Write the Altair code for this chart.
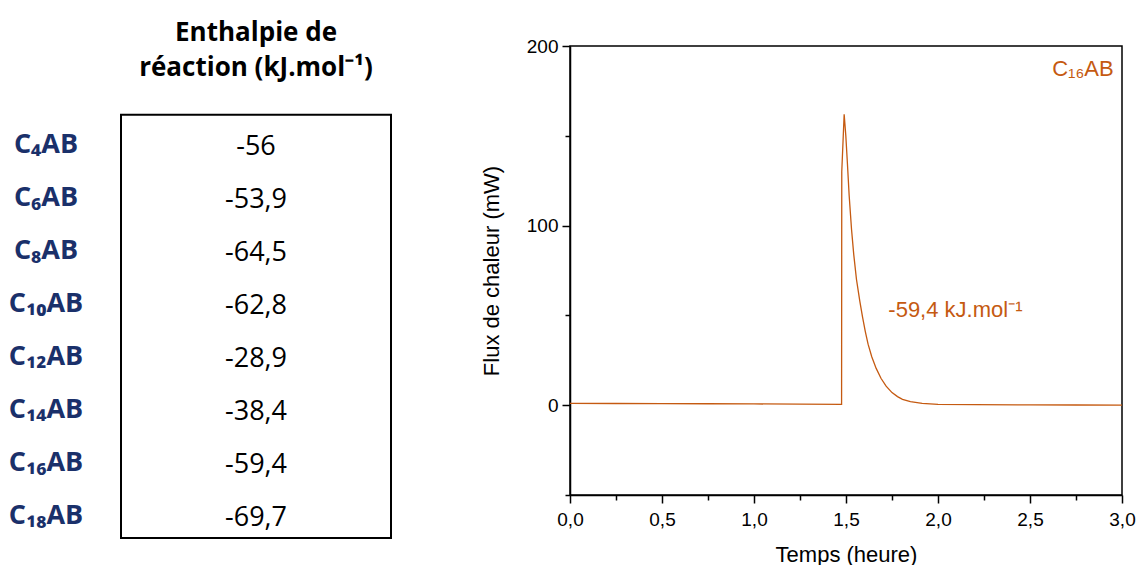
import altair as alt
import pandas as pd

# ---------------- data ----------------
compounds = ["C₄AB", "C₆AB", "C₈AB", "C₁₀AB", "C₁₂AB", "C₁₄AB", "C₁₆AB", "C₁₈AB"]
enthalpies = ["-56", "-53,9", "-64,5", "-62,8", "-28,9", "-38,4", "-59,4", "-69,7"]

time_h = [0.0, 0.25, 0.5, 0.75, 1.0, 1.25, 1.476, 1.477, 1.490, 1.499, 1.508, 1.517,
          1.530, 1.542, 1.557, 1.575, 1.590, 1.605, 1.620, 1.640, 1.664, 1.690, 1.718,
          1.750, 1.780, 1.807, 1.850, 1.914, 2.0, 2.2, 2.5, 2.75, 3.0]
flux_mw = [1.0, 0.95, 0.9, 0.8, 0.7, 0.6, 0.5, 130, 162, 150, 134, 117,
           98, 84, 70, 58, 49, 41, 34, 27, 20.5, 15, 10.6,
           7.0, 4.8, 3.3, 2.0, 1.0, 0.5, 0.3, 0.2, 0.1, 0.0]

x_ticks = [0, 0.25, 0.5, 0.75, 1.0, 1.25, 1.5, 1.75, 2.0, 2.25, 2.5, 2.75, 3.0]
y_ticks = [-50, 0, 50, 100, 150, 200]

series_label = ["C₁₆AB"]
series_value = ["-59,4 kJ.mol⁻¹"]
table_title = ["Enthalpie de", "réaction (kJ.mol⁻¹)"]

NAVY = "#1a306a"
ORANGE = "#c55a11"

# ---------------- left: table ----------------
table_df = pd.DataFrame({"compose": compounds, "enthalpie": enthalpies})
one_row = pd.DataFrame({"k": [0]})

row_scale = alt.Scale(domain=[-0.8, 8.5], reverse=True, nice=False, zero=False)

box = alt.Chart(one_row).mark_rect(
    fill="transparent", stroke="black", strokeWidth=2
).encode(
    x=alt.value(0), x2=alt.value("width"),
    y=alt.Y(datum=0.5, scale=row_scale, axis=None), y2=alt.datum(8.5),
)

values = alt.Chart(table_df).transform_window(row="row_number()").mark_text(
    font="Open Sans", fontSize=27, color="black", baseline="middle", dy=6
).encode(
    y=alt.Y("row:Q", scale=row_scale, axis=None),
    text="enthalpie:N",
)

labels = alt.Chart(table_df).transform_window(row="row_number()").mark_text(
    font="Open Sans", fontSize=27, fontWeight="bold", color=NAVY,
    align="center", baseline="middle", dx=-75, dy=4
).encode(
    x=alt.value(0),
    y=alt.Y("row:Q", scale=row_scale, axis=None),
    text="compose:N",
)

header = alt.Chart(one_row).mark_text(
    text=table_title, font="Open Sans", fontSize=26, fontWeight="bold",
    lineHeight=35, color="black", align="center", baseline="middle"
).encode(y=alt.Y(datum=-1.05, scale=row_scale, axis=None))

table = alt.layer(box, values, labels, header).properties(
    width=270, height=492,
    view=alt.ViewBackground(stroke=None, fill="white"),
)

# ---------------- right: heat flow ----------------
curve_df = pd.DataFrame({"t": time_h, "q": flux_mw})

x_enc = alt.X("t:Q", scale=alt.Scale(domain=[0, 3], nice=False, zero=False),
              axis=alt.Axis(values=x_ticks, title="Temps (heure)",
                            titleFont="Liberation Sans", titleFontSize=22, titleFontWeight="normal",
                            titleColor="black", titlePadding=15,
                            labelFont="Liberation Sans", labelFontSize=19, labelColor="black",
                            labelFlush=False, labelPadding=7, labelOverlap=False,
                            labelExpr="(datum.value*4) % 2 === 0 ? replace(format(datum.value, '.1f'), '.', ',') : ''",
                            tickSize={"condition": {"test": "(datum.value*4) % 2 === 0", "value": 8}, "value": 5},
                            tickColor="black", tickWidth=1.5, domainColor="black", domainWidth=1.5,
                            grid=False))
y_enc = alt.Y("q:Q", scale=alt.Scale(domain=[-50, 200], nice=False, zero=False),
              axis=alt.Axis(values=y_ticks, title="Flux de chaleur (mW)",
                            titleFont="Liberation Sans", titleFontSize=22, titleFontWeight="normal",
                            titleColor="black", titlePadding=23,
                            labelFont="Liberation Sans", labelFontSize=19, labelColor="black",
                            labelFlush=False, labelPadding=4, labelOverlap=False,
                            labelExpr="datum.value % 100 === 0 ? datum.label : ''",
                            tickSize={"condition": {"test": "datum.value % 100 === 0", "value": 8}, "value": 5},
                            tickColor="black", tickWidth=1.5, domainColor="black", domainWidth=1.5,
                            grid=False))

line = alt.Chart(curve_df).mark_line(color=ORANGE, strokeWidth=1.3, clip=True).encode(
    x=x_enc, y=y_enc
)

name_df = pd.DataFrame({"label": series_label})
value_df = pd.DataFrame({"label": series_value})

label_name = alt.Chart(name_df).mark_text(
    font="Liberation Sans", fontSize=22, color=ORANGE, align="right", baseline="middle"
).encode(x=alt.datum(2.955), y=alt.datum(187), text="label:N")

label_value = alt.Chart(value_df).mark_text(
    font="Liberation Sans", fontSize=22, color=ORANGE, align="left", baseline="middle"
).encode(x=alt.datum(1.73), y=alt.datum(53), text="label:N")

plot = alt.layer(line, label_name, label_value).properties(
    width=552, height=449,
    view=alt.ViewBackground(stroke="black", strokeWidth=1.5, fill="white"),
)

chart = alt.hconcat(table, plot, spacing=87).properties(
    padding={"left": 0, "top": 11, "right": 0, "bottom": 0}
).configure(background="white")

chart.save("out.html", embed_options={"renderer": "svg", "actions": False})
